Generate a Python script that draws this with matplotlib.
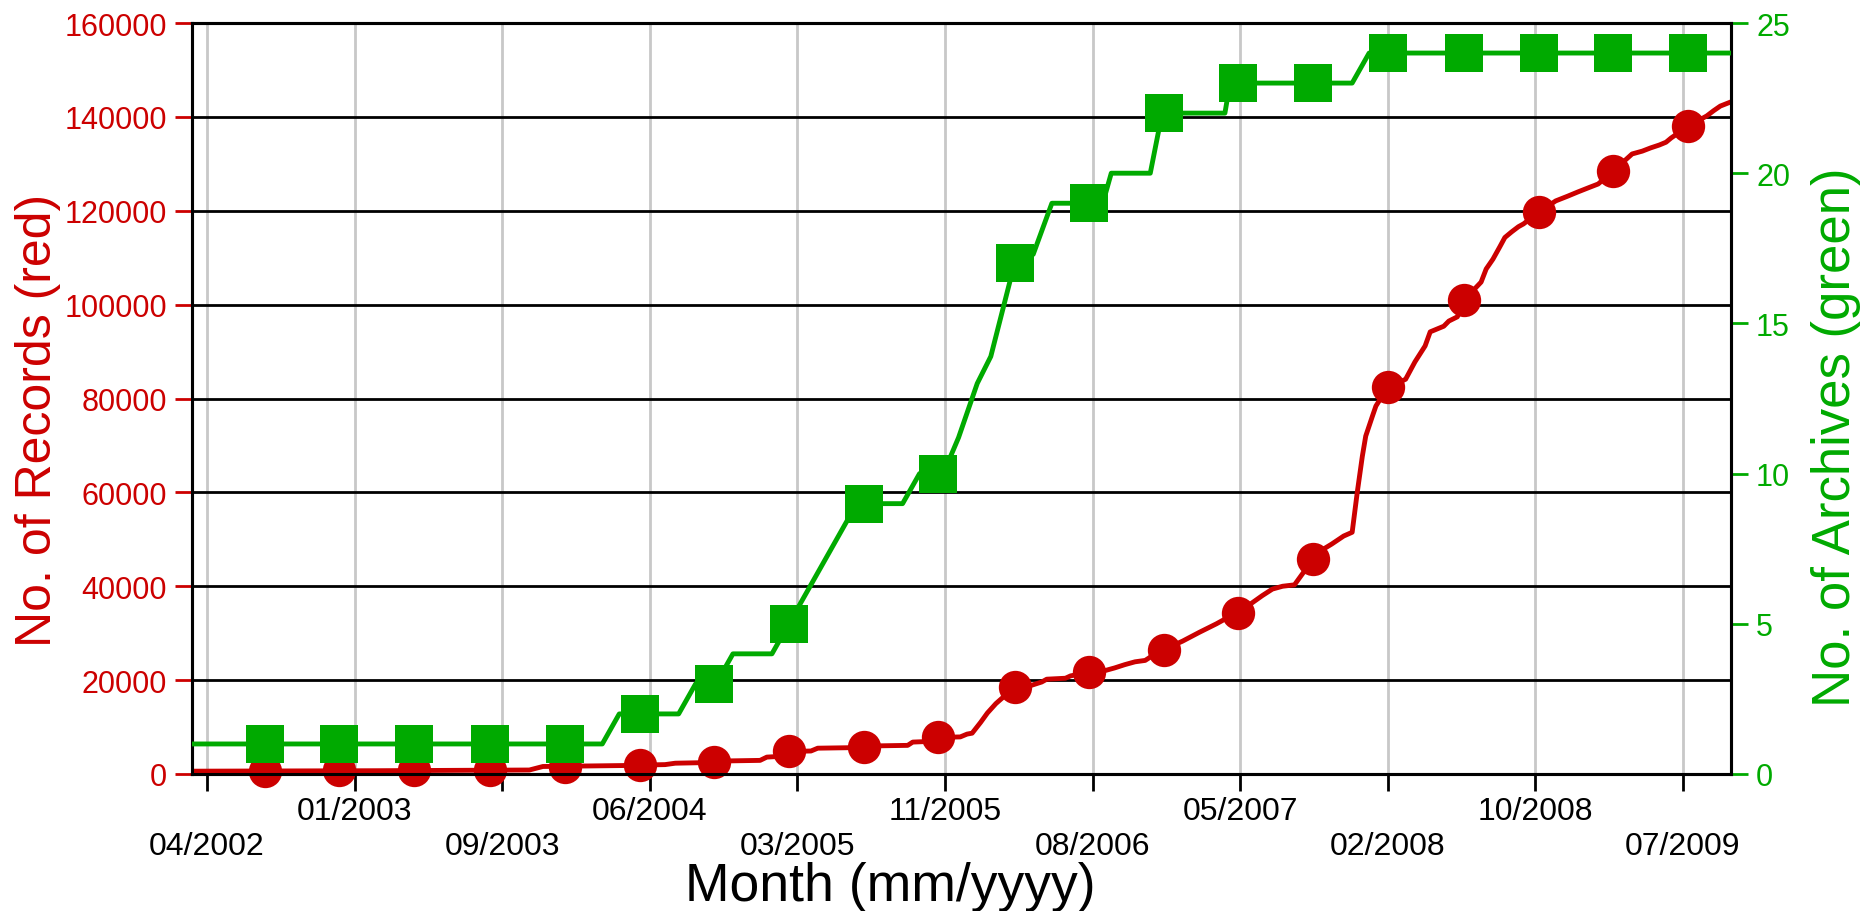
import matplotlib
matplotlib.use('Agg')
import matplotlib.pyplot as plt

plt.rcParams['font.family'] = ['Liberation Sans', 'DejaVu Sans']

RED = '#cc0000'
GREEN = '#00aa00'

# x unit: months after 04/2002
tick_months = [0, 8.7, 17.4, 26.1, 34.8, 43.5, 52.2, 60.9, 69.6, 78.3, 87.0]
tick_labels = ['04/2002', '01/2003', '09/2003', '06/2004', '03/2005', '11/2005',
               '08/2006', '05/2007', '02/2008', '10/2008', '07/2009']

left_ticks = [0, 20000, 40000, 60000, 80000, 100000, 120000, 140000, 160000]
left_labels = ['0', '20000', '40000', '60000', '80000', '100000', '120000', '140000', '160000']
right_ticks = [0, 5, 10, 15, 20, 25]
right_labels = ['0', '5', '10', '15', '20', '25']

marker_months = [3.4, 7.8, 12.2, 16.7, 21.1, 25.5, 29.9, 34.3, 38.7, 43.1,
                 47.6, 52.0, 56.4, 60.8, 65.2, 69.6, 74.1, 78.5, 82.9, 87.3]
records_at_markers = [700, 750, 800, 850, 1500, 1900, 2600, 4800, 5700, 7800,
                      18500, 21700, 26500, 34300, 45800, 82400, 101000, 119700, 128500, 138000]
archives_at_markers = [1, 1, 1, 1, 1, 2, 3, 5, 9, 10,
                       17, 19, 22, 23, 23, 24, 24, 24, 24, 24]

records_line_months = [-0.9, 10.0, 19.0, 19.8, 24.5, 25.5, 27.0, 27.6, 29.0, 29.9,
                       30.9, 32.6, 33.0, 33.5, 34.3, 35.6, 36.0, 37.8, 38.7, 39.6,
                       41.3, 41.6, 42.3, 43.1, 44.4, 44.8, 45.1, 45.6, 46.0, 46.5,
                       47.6, 48.6, 49.2, 49.5, 50.6, 50.9, 52.0, 52.9, 53.5, 54.1,
                       54.7, 55.3, 55.6, 56.4, 57.5, 58.5, 59.5, 60.0, 60.8, 61.5,
                       62.2, 62.8, 63.4, 64.1, 65.2, 65.8, 66.3, 67.0, 67.5, 67.8,
                       68.1, 68.3, 68.7, 68.9, 69.6, 70.65, 71.2, 71.5, 71.8, 72.1,
                       72.9, 73.2, 73.7, 74.1, 75.1, 75.4, 75.8, 76.2, 76.5, 76.9,
                       77.3, 77.6, 78.5, 79.5, 80.2, 80.8, 81.5, 82.0, 82.9, 84.0,
                       84.6, 85.1, 85.6, 86.0, 86.3, 87.3, 88.4, 88.8, 89.2, 89.9]
records_line_values = [600, 700, 850, 1600, 1800, 1900, 2000, 2300, 2400, 2600,
                       2800, 2900, 3600, 3700, 4800, 4900, 5500, 5600, 5700, 6000,
                       6100, 6800, 6900, 7800, 7900, 8500, 8700, 11000, 13000, 15000,
                       18500, 18900, 19600, 20200, 20400, 20900, 21700, 22000, 22600, 23300,
                       23900, 24200, 24900, 26500, 28300, 30200, 32000, 33000, 34300, 36200,
                       38000, 39400, 40000, 40300, 45800, 47900, 49000, 50700, 51500, 60000,
                       67700, 72000, 76300, 78400, 82400, 84100, 87800, 89500, 91200, 94200,
                       95400, 96500, 97400, 101000, 104800, 107600, 109700, 112300, 114300, 115500,
                       116600, 117200, 119700, 122100, 123100, 124000, 125000, 125700, 128500, 132100,
                       132700, 133400, 134000, 134600, 135500, 138000, 140200, 141300, 142300, 143300]

archives_line_months = [-0.9, 23.3, 24.3, 27.8, 28.8, 30.0, 31.0, 33.3, 38.3, 41.0,
                        42.0, 43.4, 44.3, 45.4, 46.2, 47.6, 48.7, 49.8, 52.8, 53.3,
                        55.6, 56.3, 60.0, 60.3, 67.5, 68.5, 89.9]
archives_line_values = [1, 1, 2, 2, 3, 3, 4, 4, 9, 9,
                        10, 10, 11.2, 13, 13.9, 17, 17.3, 19, 19, 20,
                        20, 22, 22, 23, 23, 24, 24]

fig = plt.figure(figsize=(18.7, 9.12), dpi=100)
ax = fig.add_axes([192 / 1870, 1 - 775 / 912, (1731 - 192) / 1870, (775 - 24) / 912])
ax2 = ax.twinx()

ax.plot(records_line_months, records_line_values, color=RED, lw=3.5,
        solid_joinstyle='round', zorder=3)
ax.plot(marker_months, records_at_markers, 'o', ms=24, mew=0, color=RED,
        clip_on=False, zorder=4)
ax2.plot(archives_line_months, archives_line_values, color=GREEN, lw=3.5,
         solid_joinstyle='round', zorder=3)
ax2.plot(marker_months, archives_at_markers, 's', ms=27, mew=0, color=GREEN,
         clip_on=False, zorder=4)

ax.set_xlim(-0.884, 89.83)
ax.set_ylim(0, 160000)
ax2.set_ylim(0, 25)

xlabels = [('\n' + t) if i % 2 == 0 else t for i, t in enumerate(tick_labels)]
ax.set_xticks(tick_months, xlabels)
ax.set_yticks(left_ticks, left_labels)
ax2.set_yticks(right_ticks, right_labels)

ax.set_axisbelow(True)
ax.grid(axis='x', color='#c8c8c8', lw=2.0)
ax.grid(axis='y', color='black', lw=2.0)

ax.tick_params(axis='x', colors='black', length=12, width=2, direction='out',
               pad=4, labelsize=23)
ax.tick_params(axis='y', colors=RED, length=12, width=2, direction='out',
               pad=6, labelsize=22)
ax2.tick_params(axis='y', colors=GREEN, length=12, width=2, direction='out',
                pad=6, labelsize=22)

for a in (ax, ax2):
    for s in a.spines.values():
        s.set_color('black')
        s.set_linewidth(2.2)

fig.text(0.0203, 0.539, 'No. of Records (red)', color=RED, fontsize=36,
         rotation=90, ha='center', va='center')
fig.text(0.982, 0.521, 'No. of Archives (green)', color=GREEN, fontsize=38,
         rotation=90, ha='center', va='center')
fig.text(0.476, 0.027, 'Month (mm/yyyy)', color='black', fontsize=38.5,
         ha='center', va='center')

fig.savefig('out.png', dpi=100)
